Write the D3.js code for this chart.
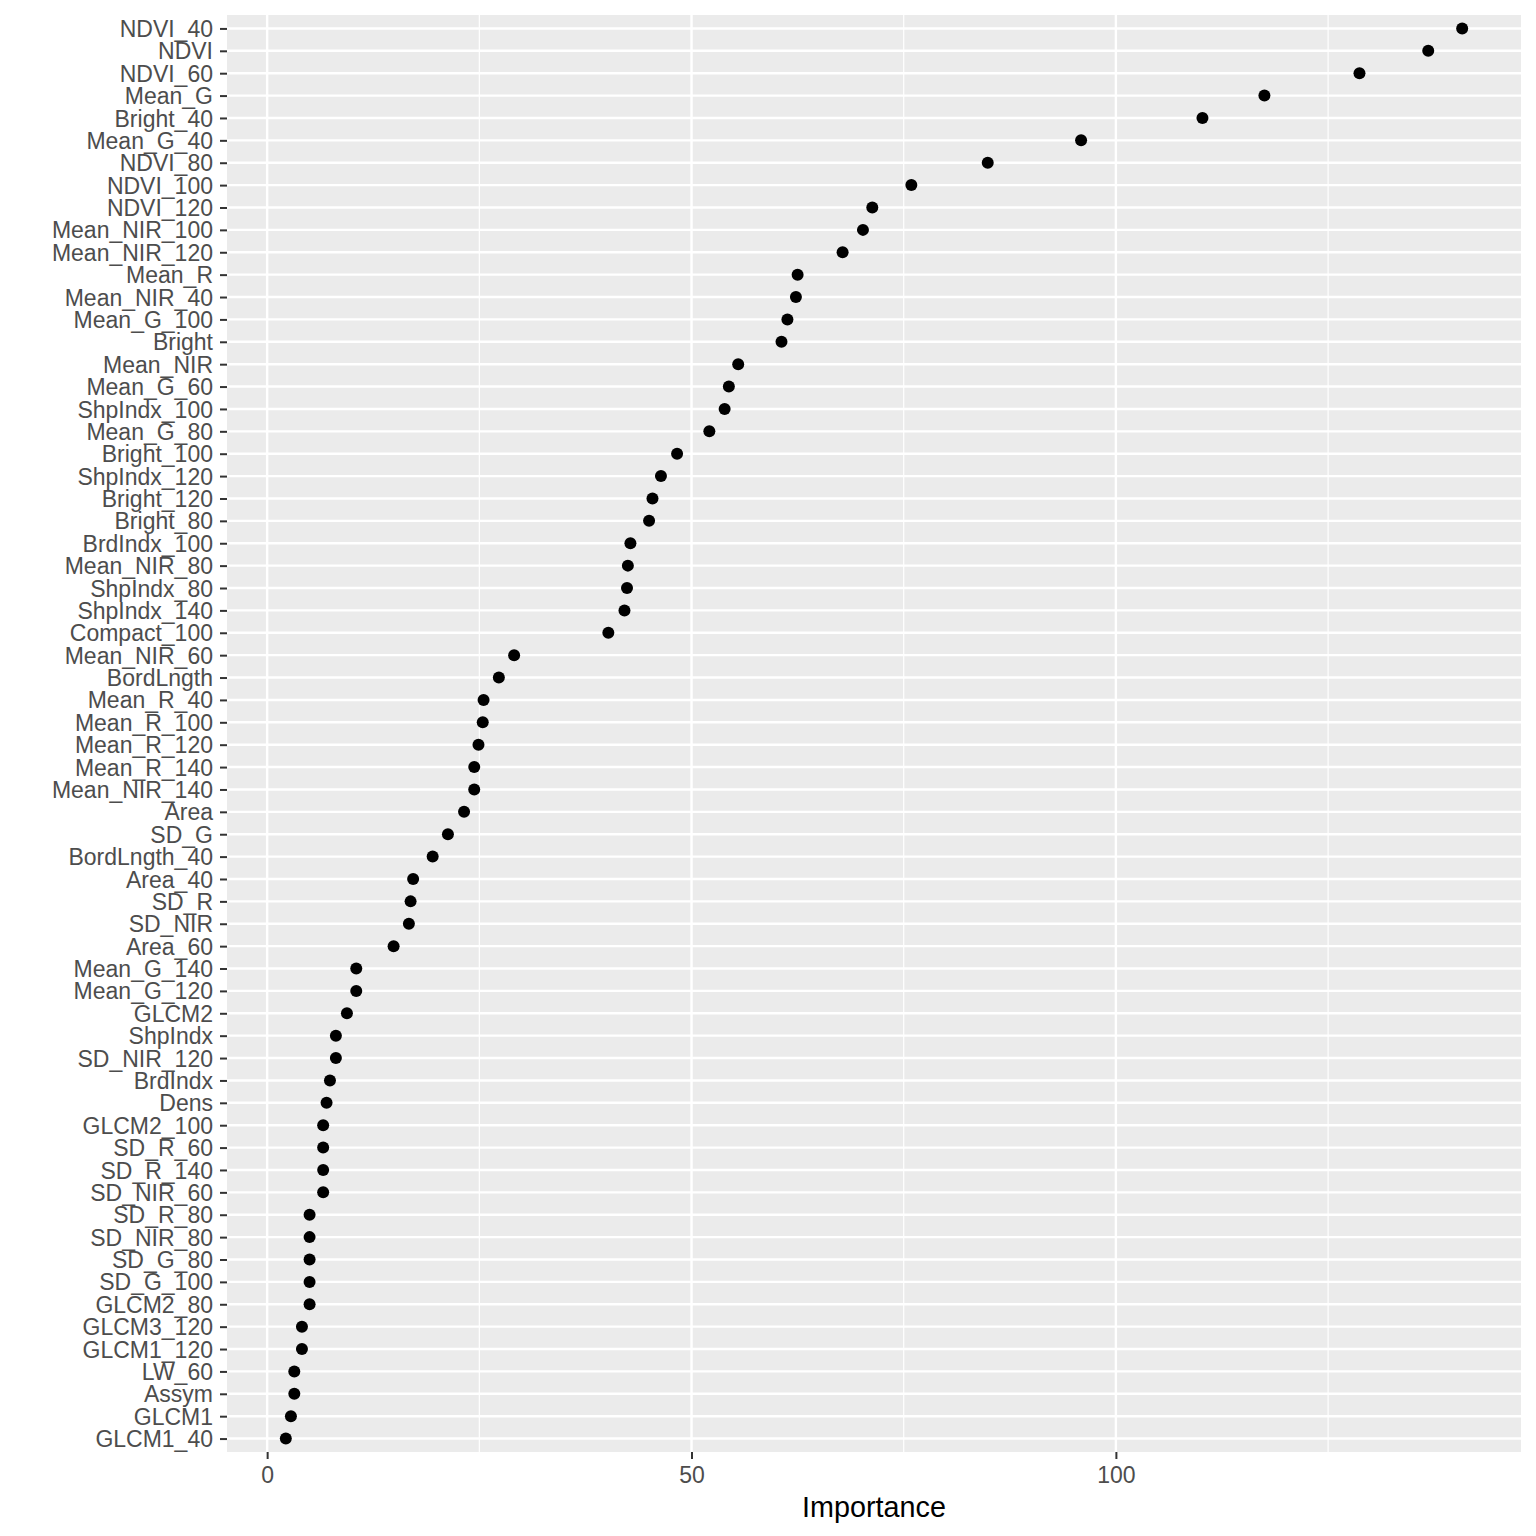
<!DOCTYPE html>
<html>
<head>
<meta charset="utf-8">
<script src="https://cdn.jsdelivr.net/npm/d3@7"></script>
<style>
  body { margin: 0; background: #fff; }
  svg { display: block; }
</style>
</head>
<body>
<div id="chart"></div>
<script>
// variable names, top to bottom as shown on the y axis
const variables = [
  'NDVI_40', 'NDVI', 'NDVI_60', 'Mean_G', 'Bright_40', 'Mean_G_40', 'NDVI_80',
  'NDVI_100', 'NDVI_120', 'Mean_NIR_100', 'Mean_NIR_120', 'Mean_R', 'Mean_NIR_40',
  'Mean_G_100', 'Bright', 'Mean_NIR', 'Mean_G_60', 'ShpIndx_100', 'Mean_G_80',
  'Bright_100', 'ShpIndx_120', 'Bright_120', 'Bright_80', 'BrdIndx_100',
  'Mean_NIR_80', 'ShpIndx_80', 'ShpIndx_140', 'Compact_100', 'Mean_NIR_60',
  'BordLngth', 'Mean_R_40', 'Mean_R_100', 'Mean_R_120', 'Mean_R_140',
  'Mean_NIR_140', 'Area', 'SD_G', 'BordLngth_40', 'Area_40', 'SD_R', 'SD_NIR',
  'Area_60', 'Mean_G_140', 'Mean_G_120', 'GLCM2', 'ShpIndx', 'SD_NIR_120',
  'BrdIndx', 'Dens', 'GLCM2_100', 'SD_R_60', 'SD_R_140', 'SD_NIR_60', 'SD_R_80',
  'SD_NIR_80', 'SD_G_80', 'SD_G_100', 'GLCM2_80', 'GLCM3_120', 'GLCM1_120',
  'LW_60', 'Assym', 'GLCM1', 'GLCM1_40',
];

// importance values, same order
const importance = [
  140.8, 136.8, 128.7, 117.5, 110.2, 95.9, 84.9,
  75.9, 71.3, 70.2, 67.8, 62.5, 62.3,
  61.3, 60.6, 55.5, 54.4, 53.9, 52.1,
  48.3, 46.4, 45.4, 45.0, 42.8,
  42.5, 42.4, 42.1, 40.2, 29.1,
  27.3, 25.5, 25.4, 24.9, 24.4,
  24.4, 23.2, 21.3, 19.5, 17.2, 16.9, 16.7,
  14.9, 10.5, 10.5, 9.4, 8.1, 8.1,
  7.4, 7.0, 6.6, 6.6, 6.6, 6.6, 5.0,
  5.0, 5.0, 5.0, 5.0, 4.1, 4.1,
  3.2, 3.2, 2.8, 2.2,
];

const majorTicks = [0, 50, 100];
const minorTicks = [25, 75, 125];
const xTitle = 'Importance';

const W = 1536;
const H = 1536;
const margin = { top: 15, right: 15, bottom: 84, left: 227 };
const width = W - margin.left - margin.right;
const height = H - margin.top - margin.bottom;

const data = variables.map((v, i) => ({ name: v, value: importance[i] }));

const svg = d3
  .select('#chart')
  .append('svg')
  .attr('width', W)
  .attr('height', H)
  .style('font-family', 'Liberation Sans, Arial, sans-serif');

const g = svg
  .append('g')
  .attr('transform', `translate(${margin.left}, ${margin.top})`);

// ggplot style 5% expansion on the continuous axis
const [lo, hi] = d3.extent(importance);
const pad = (hi - lo) * 0.05;
const xScale = d3.scaleLinear().domain([lo - pad, hi + pad]).range([0, width]);

// discrete axis, 0.6 step expansion each side
const yScale = d3.scalePoint().domain(variables).range([0, height]).padding(0.6);

// panel
g.append('rect')
  .attr('width', width)
  .attr('height', height)
  .attr('fill', '#EBEBEB');

// grid lines
g.selectAll('.minor')
  .data(minorTicks)
  .join('line')
  .attr('x1', (d) => xScale(d))
  .attr('x2', (d) => xScale(d))
  .attr('y1', 0)
  .attr('y2', height)
  .attr('stroke', '#fff')
  .attr('stroke-width', 1.2);

g.selectAll('.majorx')
  .data(majorTicks)
  .join('line')
  .attr('x1', (d) => xScale(d))
  .attr('x2', (d) => xScale(d))
  .attr('y1', 0)
  .attr('y2', height)
  .attr('stroke', '#fff')
  .attr('stroke-width', 2.4);

g.selectAll('.majory')
  .data(variables)
  .join('line')
  .attr('x1', 0)
  .attr('x2', width)
  .attr('y1', (d) => yScale(d))
  .attr('y2', (d) => yScale(d))
  .attr('stroke', '#fff')
  .attr('stroke-width', 2.4);

// points
g.selectAll('circle')
  .data(data)
  .join('circle')
  .attr('cx', (d) => xScale(d.value))
  .attr('cy', (d) => yScale(d.name))
  .attr('r', 6)
  .attr('fill', '#000');

// axes
const yAxis = g
  .append('g')
  .call(d3.axisLeft(yScale).tickSize(7).tickPadding(7));
yAxis.select('.domain').remove();
yAxis.selectAll('line').attr('stroke', '#333').attr('stroke-width', 2);
yAxis
  .selectAll('text')
  .attr('fill', '#4D4D4D')
  .style('font-size', '23px')
  .attr('dy', '0.35em');

const xAxis = g
  .append('g')
  .attr('transform', `translate(0, ${height})`)
  .call(d3.axisBottom(xScale).tickValues(majorTicks).tickSize(7).tickPadding(8));
xAxis.select('.domain').remove();
xAxis.selectAll('line').attr('stroke', '#333').attr('stroke-width', 2);
xAxis
  .selectAll('text')
  .attr('fill', '#4D4D4D')
  .style('font-size', '23px');

// axis title
g.append('text')
  .attr('x', width / 2)
  .attr('y', height + 65)
  .attr('text-anchor', 'middle')
  .style('font-size', '28.75px')
  .attr('fill', '#000')
  .text(xTitle);
</script>
</body>
</html>
